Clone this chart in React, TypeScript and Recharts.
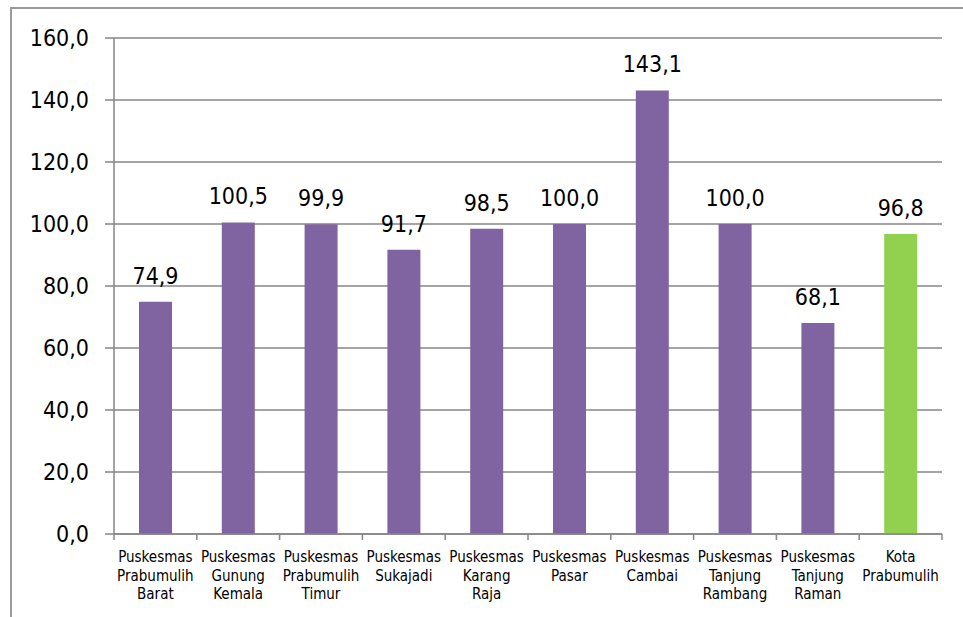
import React from 'react';
import { BarChart, Bar, XAxis, YAxis, CartesianGrid, Cell, LabelList } from 'recharts';

const categories: string[][] = [
  ['Puskesmas', 'Prabumulih', 'Barat'],
  ['Puskesmas', 'Gunung', 'Kemala'],
  ['Puskesmas', 'Prabumulih', 'Timur'],
  ['Puskesmas', 'Sukajadi'],
  ['Puskesmas', 'Karang', 'Raja'],
  ['Puskesmas', 'Pasar'],
  ['Puskesmas', 'Cambai'],
  ['Puskesmas', 'Tanjung', 'Rambang'],
  ['Puskesmas', 'Tanjung', 'Raman'],
  ['Kota', 'Prabumulih'],
];
const values: number[] = [74.9, 100.5, 99.9, 91.7, 98.5, 100.0, 143.1, 100.0, 68.1, 96.8];
const barColors: string[] = ['#8064A2', '#8064A2', '#8064A2', '#8064A2', '#8064A2', '#8064A2', '#8064A2', '#8064A2', '#8064A2', '#92D050'];
const yTicks: number[] = [0, 20, 40, 60, 80, 100, 120, 140, 160];

const data = categories.map((c, i) => ({ name: c.join(' '), lines: c, value: values[i], color: barColors[i] }));

const FONT = "'DejaVu Sans Condensed', 'DejaVu Sans', sans-serif";
const GRID = '#868686';

const fmt = (v: number) => v.toFixed(1).replace('.', ',');

const XTick = (props: any) => {
  const { x, y, payload, index, width } = props;
  const step = (width || 828) / data.length;
  const lines = data[index]?.lines || [String(payload.value)];
  const left = x - step / 2;
  return (
    <g>
      <line x1={left} x2={left} y1={y} y2={y + 6} stroke={GRID} strokeWidth={1.5} />
      {index === data.length - 1 && (
        <line x1={x + step / 2} x2={x + step / 2} y1={y} y2={y + 6} stroke={GRID} strokeWidth={1.5} />
      )}
      <text textAnchor="middle" fontFamily={FONT} fontSize={15} fill="#000">
        {lines.map((l: string, i: number) => (
          <tspan key={i} x={x} y={y + 28 + i * 18.5}>{l}</tspan>
        ))}
      </text>
    </g>
  );
};

export default function App() {
  return (
    <div style={{ position: 'absolute', left: 0, top: 0, width: 963, height: 617, background: '#fff', overflow: 'hidden' }}>
      <div style={{ position: 'absolute', left: 10, top: 7, width: 1000, height: 700, borderLeft: '2px solid #9a9a9a', borderTop: '2px solid #9a9a9a' }} />
      <BarChart
        width={963}
        height={617}
        data={data}
        margin={{ top: 38, right: 21, bottom: 0, left: 0 }}
        style={{ position: 'absolute', left: 0, top: 0 }}
      >
        <CartesianGrid vertical={false} stroke={GRID} strokeWidth={1.5} />
        <XAxis
          dataKey="name"
          height={83}
          interval={0}
          tickLine={false}
          tickSize={0}
          tickMargin={0}
          axisLine={{ stroke: GRID, strokeWidth: 1.5 }}
          tick={<XTick />}
        />
        <YAxis
          width={114}
          domain={[0, 160]}
          ticks={yTicks}
          tickFormatter={fmt}
          tickSize={9}
          tickMargin={16}
          axisLine={{ stroke: GRID, strokeWidth: 1.5 }}
          tickLine={{ stroke: GRID, strokeWidth: 1.5 }}
          tick={{ fill: '#000', fontSize: 23, fontFamily: FONT }}
          interval={0}
        />
        <Bar dataKey="value" barSize={33} isAnimationActive={false}>
          {data.map((d, i) => (
            <Cell key={i} fill={d.color} />
          ))}
          <LabelList
            dataKey="value"
            position="top"
            offset={18}
            formatter={(v: any) => fmt(Number(v))}
            style={{ fill: '#000', fontSize: 23, fontFamily: FONT }}
          />
        </Bar>
      </BarChart>
    </div>
  );
}
